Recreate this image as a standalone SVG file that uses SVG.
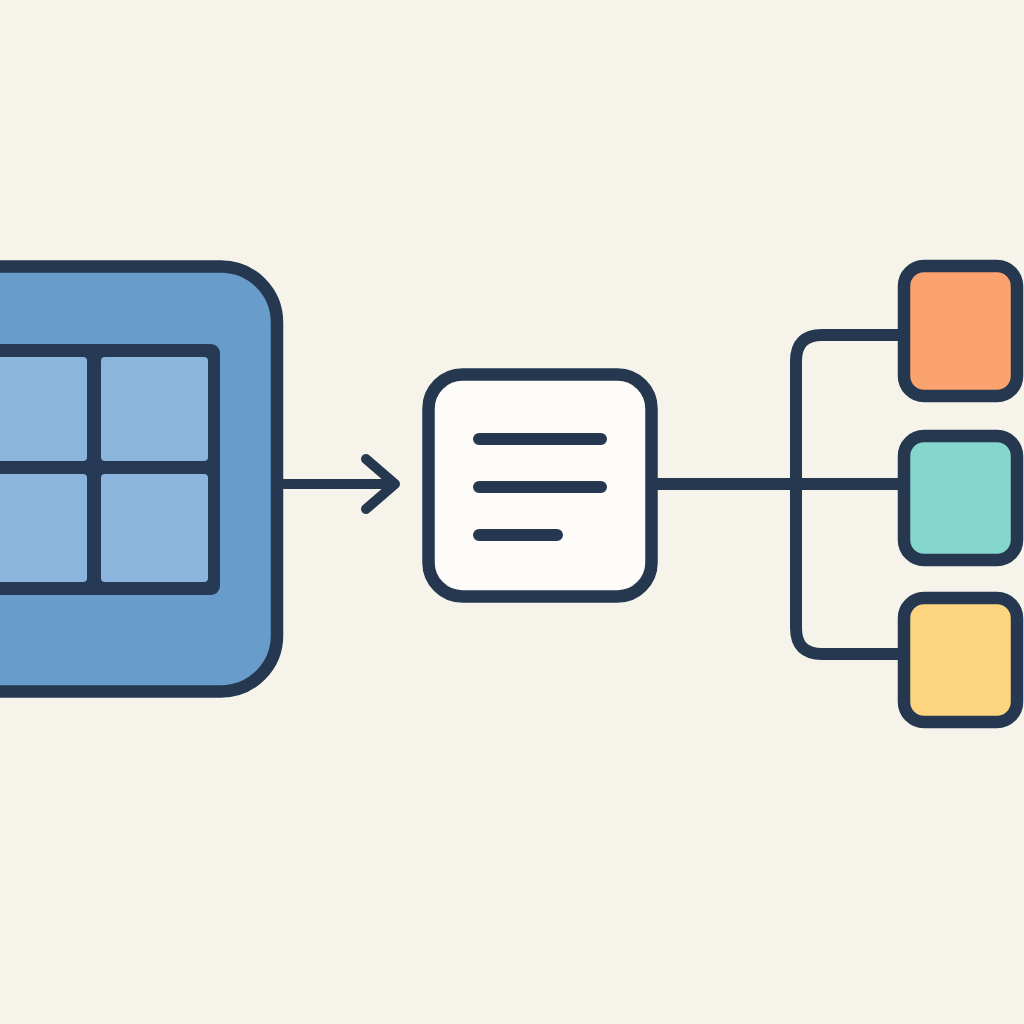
<svg xmlns="http://www.w3.org/2000/svg" width="1024" height="1024" viewBox="0 0 1024 1024">
<style>
.ink{stroke:#253850;fill:none;stroke-linecap:round;stroke-linejoin:round}
.box{stroke:#253850;stroke-width:12.5}
.cell{fill:#8cb5de}
</style>
<rect width="1024" height="1024" fill="#f6f3eb"/>
<g id="source-grid">
<rect class="box" x="-120" y="266.5" width="397" height="425" rx="56" fill="#679ccb"/>
<rect x="-30" y="344" width="250" height="251" rx="9" fill="#263a55"/>
<rect class="cell" x="-20" y="357" width="107" height="104" rx="4"/>
<rect class="cell" x="101" y="357" width="107" height="104" rx="4"/>
<rect class="cell" x="-20" y="474" width="107" height="108" rx="4"/>
<rect class="cell" x="101" y="474" width="107" height="108" rx="4"/>
</g>
<g id="document">
<rect class="box" x="428.5" y="374.5" width="223" height="222" rx="34" fill="#fdfcf8"/>
<path class="ink" stroke-width="12" d="M479 439H601M479 487H601M479 535H557"/>
</g>
<g id="out-orange"><rect class="box" x="904" y="266" width="113" height="130" rx="20" fill="#fba36e"/></g>
<g id="out-teal"><rect class="box" x="904" y="436" width="113" height="124" rx="20" fill="#85d6cd"/></g>
<g id="out-yellow"><rect class="box" x="904" y="598" width="113" height="124" rx="20" fill="#fdd580"/></g>
<g id="connectors">
<path class="ink" stroke-width="10" d="M284 484H392"/>
<path class="ink" stroke-width="10" d="M366 459L395 484L366 509"/>
<path class="ink" stroke-width="12" d="M658 484H898"/>
<path class="ink" stroke-width="12" d="M898 335H822Q796 335 796 361V628Q796 654 822 654H898"/>
</g>
</svg>
